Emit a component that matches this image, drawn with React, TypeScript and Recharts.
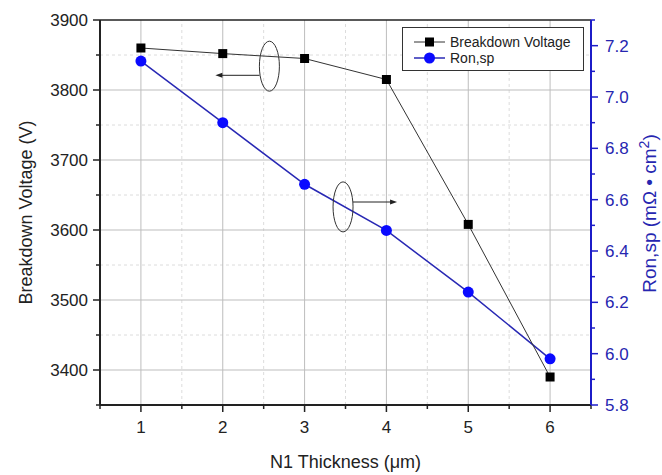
import React from "react";
import {
  ComposedChart,
  Line,
  XAxis,
  YAxis,
  ReferenceLine,
  ReferenceDot,
  Legend,
} from "recharts";

const thickness = [1, 2, 3, 4, 5, 6];
const breakdownVoltage = [3860, 3852, 3845, 3815, 3608, 3390];
const ronSp = [7.14, 6.9, 6.66, 6.48, 6.24, 5.98];

const xTicks = [0.5, 1, 1.5, 2, 2.5, 3, 3.5, 4, 4.5, 5, 5.5, 6, 6.5];
const xMajor = [1, 2, 3, 4, 5, 6];
const xMinorGrid = [1.5, 2.5, 3.5, 4.5, 5.5];

const leftTicks = [3350, 3400, 3450, 3500, 3550, 3600, 3650, 3700, 3750, 3800, 3850, 3900];
const leftMajor = [3400, 3500, 3600, 3700, 3800, 3900];
const leftMinorGrid = [3450, 3550, 3650, 3750, 3850];

const rightTicks = [5.8, 5.9, 6.0, 6.1, 6.2, 6.3, 6.4, 6.5, 6.6, 6.7, 6.8, 6.9, 7.0, 7.1, 7.2, 7.3];
const rightMajor = [5.8, 6.0, 6.2, 6.4, 6.6, 6.8, 7.0, 7.2];

const data = thickness.map((t, i) => ({
  x: t,
  bv: breakdownVoltage[i],
  ron: ronSp[i],
}));

const FONT = "Arial, 'Liberation Sans', sans-serif";
const BLUE_AXIS = "#1c1cc8";
const BLUE_TEXT = "#2626b0";

const isMajor = (list: number[], v: number) =>
  list.some((m) => Math.abs(m - v) < 1e-6);

const LeftTick = (props: any) => {
  const { x, y, payload } = props;
  const major = isMajor(leftMajor, payload.value);
  return (
    <g>
      <line x1={x} x2={x - (major ? 7 : 4)} y1={y} y2={y} stroke="#222" strokeWidth={1.5} />
      {major && (
        <text x={x - 12} y={y} dy="0.35em" textAnchor="end" fontSize={17} fontFamily={FONT} fill="#222">
          {payload.value}
        </text>
      )}
    </g>
  );
};

const RightTick = (props: any) => {
  const { x, y, payload } = props;
  const major = isMajor(rightMajor, payload.value);
  return (
    <g>
      <line x1={x} x2={x + (major ? 7 : 4)} y1={y} y2={y} stroke={BLUE_AXIS} strokeWidth={1.5} />
      {major && (
        <text x={x + 14} y={y} dy="0.35em" textAnchor="start" fontSize={17} fontFamily={FONT} fill={BLUE_TEXT}>
          {payload.value.toFixed(1)}
        </text>
      )}
    </g>
  );
};

const BottomTick = (props: any) => {
  const { x, y, payload } = props;
  const major = isMajor(xMajor, payload.value);
  return (
    <g>
      <line x1={x} x2={x} y1={y} y2={y + (major ? 7 : 4)} stroke="#222" strokeWidth={1.5} />
      {major && (
        <text x={x} y={y + 22} dy="0.35em" textAnchor="middle" fontSize={17} fontFamily={FONT} fill="#222">
          {payload.value}
        </text>
      )}
    </g>
  );
};

const LeftLabel = (props: any) => {
  const { viewBox } = props;
  const cx = viewBox.x + viewBox.width - 74;
  const cy = viewBox.y + viewBox.height / 2;
  return (
    <text x={cx} y={cy} transform={`rotate(-90 ${cx} ${cy})`} textAnchor="middle" dy="0.35em" fontSize={18} fontFamily={FONT} fill="#222">
      Breakdown Voltage (V)
    </text>
  );
};

const RightLabel = (props: any) => {
  const { viewBox } = props;
  const cx = viewBox.x + 58;
  const cy = viewBox.y + viewBox.height / 2 + 1;
  return (
    <text x={cx} y={cy} transform={`rotate(-90 ${cx} ${cy})`} textAnchor="middle" dy="0.35em" fontSize={19} fontFamily={FONT} fill={BLUE_TEXT}>
      Ron,sp (mΩ • cm
      <tspan dy="-7" fontSize={14}>2</tspan>
      <tspan dy="7">)</tspan>
    </text>
  );
};

const BottomLabel = (props: any) => {
  const { viewBox } = props;
  const cx = viewBox.x + viewBox.width / 2;
  return (
    <text x={cx} y={viewBox.y + 57} textAnchor="middle" dy="0.35em" fontSize={18} fontFamily={FONT} fill="#222">
      N1 Thickness (μm)
    </text>
  );
};

const Square = (p: any) => (
  <rect key={`sq-${p.index}`} x={p.cx - 4.5} y={p.cy - 4.5} width={9} height={9} fill="#000" />
);

const Circle = (p: any) => (
  <circle key={`ci-${p.index}`} cx={p.cx} cy={p.cy} r={5.5} fill="#0a0aff" />
);

const Oval = (p: any) => (
  <ellipse cx={p.cx} cy={p.cy} rx={10} ry={25} fill="none" stroke="#333" strokeWidth={1} />
);

const Arrow = (p: any) => {
  const { x1, y1, x2, y2 } = p;
  const dir = x2 > x1 ? 1 : -1;
  return (
    <g>
      <line x1={x1} y1={y1} x2={x2 - dir * 5} y2={y2} stroke="#222" strokeWidth={1} />
      <polygon points={`${x2},${y2} ${x2 - dir * 7},${y2 - 2.5} ${x2 - dir * 7},${y2 + 2.5}`} fill="#222" />
    </g>
  );
};

const LegendBox = () => (
  <svg width={182} height={44} style={{ display: "block" }}>
    <rect x={0.5} y={0.5} width={181} height={43} fill="#fff" stroke="#333" strokeWidth={1} />
    <line x1={12} x2={43} y1={15} y2={15} stroke="#333" strokeWidth={1} />
    <rect x={23} y={10.5} width={9} height={9} fill="#000" />
    <text x={48} y={15} dy="0.35em" fontSize={14} fontFamily={FONT} fill="#222">
      Breakdown Voltage
    </text>
    <line x1={12} x2={43} y1={31} y2={31} stroke="#2828b4" strokeWidth={1.5} />
    <circle cx={27.5} cy={31} r={5.5} fill="#0a0aff" />
    <text x={48} y={31} dy="0.35em" fontSize={14} fontFamily={FONT} fill="#222">
      Ron,sp
    </text>
  </svg>
);

export default function App() {
  return (
    <div style={{ position: "absolute", left: 0, top: 0, background: "#fff" }}>
      <ComposedChart
        width={662}
        height={475}
        data={data}
        margin={{ top: 20, right: 31, bottom: 30, left: 40 }}
      >
        <XAxis
          dataKey="x"
          type="number"
          domain={[0.5, 6.5]}
          ticks={xTicks}
          interval={0}
          tickSize={0}
          tickMargin={0}
          tickLine={false}
          tick={<BottomTick />}
          height={40}
          axisLine={{ stroke: "#222", strokeWidth: 2 }}
          label={<BottomLabel />}
        />
        <YAxis
          yAxisId="left"
          type="number"
          domain={[3350, 3900]}
          ticks={leftTicks}
          interval={0}
          tickSize={0}
          tickMargin={0}
          tickLine={false}
          tick={<LeftTick />}
          width={60}
          axisLine={{ stroke: "#222", strokeWidth: 2 }}
          label={<LeftLabel />}
        />
        <YAxis
          yAxisId="right"
          orientation="right"
          type="number"
          domain={[5.8, 7.3]}
          ticks={rightTicks}
          interval={0}
          tickSize={0}
          tickMargin={0}
          tickLine={false}
          tick={<RightTick />}
          width={40}
          axisLine={{ stroke: BLUE_AXIS, strokeWidth: 2 }}
          label={<RightLabel />}
        />

        {leftMinorGrid.map((v) => (
          <ReferenceLine key={`hm-${v}`} yAxisId="left" y={v} stroke="#dcdcdc" strokeDasharray="3 3" />
        ))}
        {xMinorGrid.map((v) => (
          <ReferenceLine key={`vm-${v}`} yAxisId="left" x={v} stroke="#dcdcdc" strokeDasharray="3 3" />
        ))}
        {leftMajor.slice(0, -1).map((v) => (
          <ReferenceLine key={`hM-${v}`} yAxisId="left" y={v} stroke="#bdbdbd" />
        ))}
        {xMajor.map((v) => (
          <ReferenceLine key={`vM-${v}`} yAxisId="left" x={v} stroke="#bdbdbd" />
        ))}
        <ReferenceLine yAxisId="left" y={3900} stroke="#222" strokeWidth={1.5} />

        <Legend
          layout="vertical"
          align="center"
          verticalAlign="middle"
          content={<LegendBox />}
          wrapperStyle={{ position: "absolute", left: 402, top: 27, width: 182, height: 44 }}
        />

        <Line
          yAxisId="right"
          dataKey="ron"
          name="Ron,sp"
          stroke="#2828b4"
          strokeWidth={1.5}
          dot={Circle}
          activeDot={false}
          isAnimationActive={false}
        />
        <Line
          yAxisId="left"
          dataKey="bv"
          name="Breakdown Voltage"
          stroke="#333"
          strokeWidth={1}
          dot={Square}
          activeDot={false}
          isAnimationActive={false}
        />

        <ReferenceDot yAxisId="left" x={2.57} y={3834} shape={Oval} />
        <ReferenceLine
          yAxisId="left"
          segment={[
            { x: 2.45, y: 3821 },
            { x: 1.91, y: 3821 },
          ]}
          shape={Arrow}
        />
        <ReferenceDot yAxisId="left" x={3.47} y={3633} shape={Oval} />
        <ReferenceLine
          yAxisId="left"
          segment={[
            { x: 3.59, y: 3640 },
            { x: 4.13, y: 3640 },
          ]}
          shape={Arrow}
        />
      </ComposedChart>
    </div>
  );
}
